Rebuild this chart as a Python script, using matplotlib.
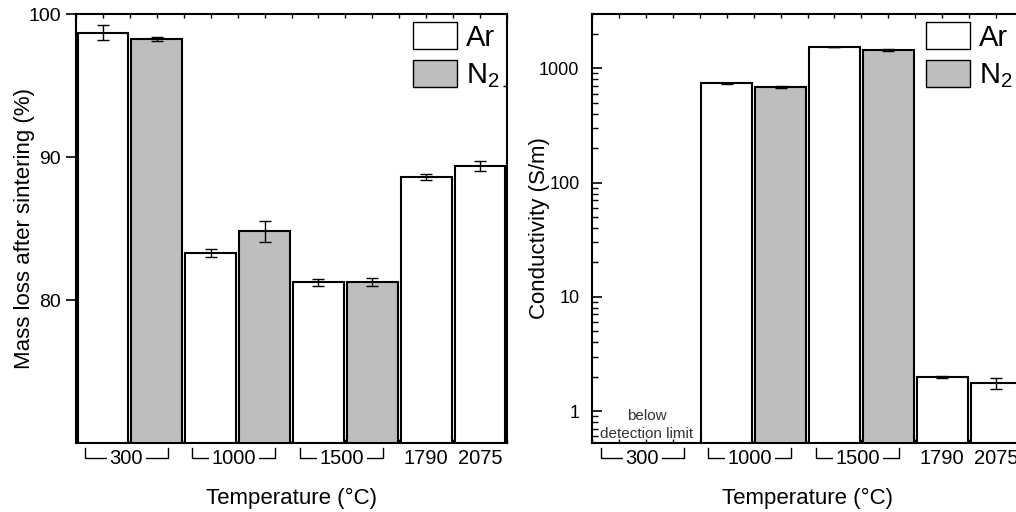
import numpy as np
import matplotlib
matplotlib.use("Agg")
import matplotlib.pyplot as plt
from matplotlib.patches import Patch
import matplotlib.transforms as mtransforms

plt.rcParams['font.family'] = ['Liberation Sans', 'DejaVu Sans']
plt.rcParams['mathtext.fontset'] = 'custom'
plt.rcParams['mathtext.rm'] = 'Liberation Sans'
plt.rcParams['mathtext.it'] = 'Liberation Sans:italic'

# ---- data ----
temps = ['300', '1000', '1500', '1790', '2075']
has_n2 = [True, True, True, False, False]

mass_ar = [98.7, 83.3, 81.25, 88.6, 89.4]
mass_ar_err = [0.5, 0.3, 0.25, 0.2, 0.35]
mass_n2 = [98.27, 84.8, 81.25]
mass_n2_err = [0.15, 0.75, 0.3]

cond_ar = [np.nan, 740, 1535, 1.98, 1.75]
cond_ar_err = [0, 10, 12, 0.05, 0.2]
cond_n2 = [np.nan, 687, 1445]
cond_n2_err = [0, 12, 15]

grey = '#bcbec0'

# slot positions
ar_pos, n2_pos, grp_center = [], [], []
slot = 0
for t, n2 in zip(temps, has_n2):
    ar_pos.append(slot + 0.5)
    if n2:
        n2_pos.append(slot + 1.5)
        grp_center.append(slot + 1.0)
        slot += 2
    else:
        grp_center.append(slot + 0.5)
        slot += 1
nslots = slot

fig = plt.figure(figsize=(10.16, 5.12), dpi=100)
ax1 = fig.add_axes([76/1016, 69/512, 431/1016, 429/512])
ax2 = fig.add_axes([592/1016, 69/512, 431/1016, 429/512])

bw = 0.94
ekw = dict(elinewidth=1.0, capthick=1.0, ecolor='black')


def draw(ax, ar, ar_err, n2, n2_err):
    ax.bar(ar_pos, ar, width=bw, color='white', edgecolor='black', linewidth=1.5,
           yerr=ar_err, capsize=4, error_kw=ekw, zorder=2)
    ax.bar(n2_pos, n2, width=bw, color=grey, edgecolor='black', linewidth=1.5,
           yerr=n2_err, capsize=4, error_kw=ekw, zorder=2)
    ax.set_xlim(0, nslots)
    for s in ax.spines.values():
        s.set_linewidth(1.5)
    ax.set_xticks(np.arange(0, nslots + 0.01, 0.5))
    ax.set_xticklabels([])
    ax.tick_params(axis='x', which='both', direction='in', length=3, width=1,
                   top=True, bottom=True)
    # bracket labels
    trans = mtransforms.blended_transform_factory(ax.transData, ax.transAxes)
    for t, n2, c in zip(temps, has_n2, grp_center):
        if n2:
            cc = c - 0.07
            hw = 0.77
            ax.plot([cc - hw, cc - hw, cc + hw, cc + hw], [-0.012, -0.035, -0.035, -0.012],
                    transform=trans, clip_on=False, color='black', lw=1.0)
            ax.text(cc, -0.037, t, transform=trans, ha='center', va='center', fontsize=14.5,
                    bbox=dict(facecolor='white', edgecolor='none', pad=2))
        else:
            ax.text(c, -0.037, t, transform=trans, ha='center', va='center', fontsize=14.5)
    ax.set_xlabel('Temperature (°C)', fontsize=16, labelpad=29)
    handles = [Patch(facecolor='white', edgecolor='black', linewidth=1.0),
               Patch(facecolor=grey, edgecolor='black', linewidth=1.0)]
    return handles


h = draw(ax1, mass_ar, mass_ar_err, mass_n2, mass_n2_err)
ax1.set_ylim(70, 100)
ax1.set_yticks([80, 90, 100])
ax1.tick_params(axis='y', which='major', direction='out', length=7, width=1.2,
                labelsize=14, pad=4)
ax1.set_yticks([75, 80, 85, 90, 95], minor=True)
ax1.tick_params(axis='y', which='minor', left=False, right=True, direction='in',
                length=3, width=1)
ax1.set_ylabel('Mass loss after sintering (%)', fontsize=16)
ax1.yaxis.set_label_coords(-0.095, 0.5)
ax1.legend(h, ['Ar', 'N$_2$'], loc='upper left', bbox_to_anchor=(0.782, 0.981),
           frameon=False, fontsize=21, handlelength=1.5, handleheight=1.05,
           handletextpad=0.3, labelspacing=0.28, borderpad=0, borderaxespad=0)

h = draw(ax2, cond_ar, cond_ar_err, cond_n2, cond_n2_err)
ax2.set_yscale('log')
ax2.set_ylim(0.525, 2985)
ax2.set_yticks([1, 10, 100, 1000])
ax2.set_yticklabels(['1', '10', '100', '1000'])
ax2.yaxis.set_minor_locator(matplotlib.ticker.LogLocator(base=10, subs=np.arange(2, 10)))
ax2.yaxis.set_minor_formatter(matplotlib.ticker.NullFormatter())
ax2.tick_params(axis='y', which='major', direction='in', length=7, width=1.2,
                labelsize=13, pad=9)
ax2.tick_params(axis='y', which='minor', direction='in', length=4, width=1)
ax2.set_ylabel('Conductivity (S/m)', fontsize=16)
ax2.yaxis.set_label_coords(-0.097, 0.5)
tr2 = mtransforms.blended_transform_factory(ax2.transData, ax2.transAxes)
ax2.text(1.02, 0.021, 'detection limit', transform=tr2, ha='center', va='center',
         fontsize=11, color='#333333')
ax2.text(1.02, 0.063, 'below', transform=tr2, ha='center', va='center',
         fontsize=11, color='#333333')
ax2.legend(h, ['Ar', 'N$_2$'], loc='upper left', bbox_to_anchor=(0.775, 0.981),
           frameon=False, fontsize=21, handlelength=1.5, handleheight=1.05,
           handletextpad=0.3, labelspacing=0.28, borderpad=0, borderaxespad=0)

fig.savefig('out.png', dpi=100)
